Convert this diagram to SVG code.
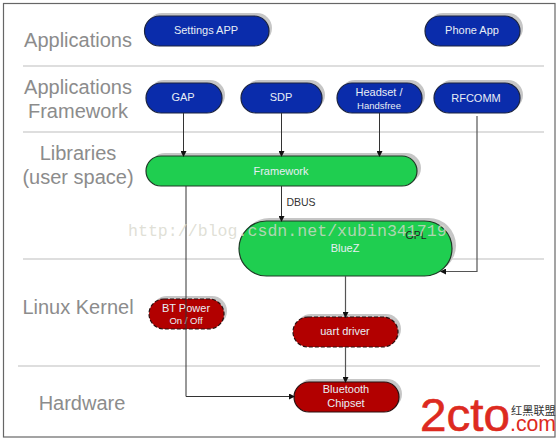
<svg xmlns="http://www.w3.org/2000/svg" width="558" height="441" viewBox="0 0 558 441">
<style>
text{font-family:"Liberation Sans",Arial,sans-serif;text-anchor:middle}
.lay{font-size:20px;fill:#8c8c8c}
.sep{stroke:#bdbdbd;stroke-width:1.2;fill:none}
.sh{fill:#c6c6c6}
.blue{fill:#0a2cab;stroke:#1a2340;stroke-width:1.2}
.green{fill:#1fce50;stroke:#1d3a25;stroke-width:1.2}
.red{fill:#b20000;stroke:#2a1010;stroke-width:1.2}
.dash{stroke-dasharray:4 2}
.t{font-size:11px;fill:#e8eef5}
.ts{font-size:9.5px;fill:#e8eef5}
.c{fill:none;stroke:#333;stroke-width:1}
.g{stroke:#555;stroke-width:1.2}
</style>
<defs>
<marker id="a" markerWidth="6" markerHeight="6" refX="5" refY="3" orient="auto" markerUnits="userSpaceOnUse"><path d="M0,0L6,3L0,6z" fill="#111"/></marker>
</defs>
<rect width="558" height="441" fill="#fff"/>
<rect x="3.5" y="3.5" width="551.5" height="433.5" fill="#fff" stroke="#666" stroke-width="1.2"/>
<g id="separators">
<path class="sep" d="M23,66H544M23,132H544M23,259H544M18,366H540"/>
</g>
<g id="layer-labels">
<text class="lay" x="78" y="47">Applications</text>
<text class="lay" x="78" y="94">Applications</text>
<text class="lay" x="78" y="118">Framework</text>
<text class="lay" x="78" y="160">Libraries</text>
<text class="lay" x="78" y="184">(user space)</text>
<text class="lay" x="78" y="314">Linux Kernel</text>
<text class="lay" x="82" y="410">Hardware</text>
</g>
<g id="settings-app"><rect class="sh" x="147" y="13" width="125" height="30" rx="15"/><rect class="blue" x="144.500" y="16" width="124.500" height="30" rx="15"/><text class="t" x="206" y="34">Settings APP</text></g>
<g id="phone-app"><rect class="sh" x="428" y="13" width="95" height="30" rx="15"/><rect class="blue" x="425" y="16" width="95" height="30" rx="15"/><text class="t" x="472" y="34">Phone App</text></g>
<g id="gap"><rect class="sh" x="149" y="80" width="76" height="30" rx="15"/><rect class="blue" x="146" y="83" width="76" height="30" rx="15"/><text class="t" x="183" y="101">GAP</text></g>
<g id="sdp"><rect class="sh" x="244" y="80" width="81" height="30" rx="15"/><rect class="blue" x="241" y="83" width="81" height="30" rx="15"/><text class="t" x="281" y="101">SDP</text></g>
<g id="headset"><rect class="sh" x="340" y="80" width="85" height="30" rx="15"/><rect class="blue" x="337" y="83" width="85" height="30" rx="15"/><text class="t" x="379" y="96">Headset /</text><text class="ts" x="379" y="109">Handsfree</text></g>
<g id="rfcomm"><rect class="sh" x="437" y="80" width="86" height="30" rx="15"/><rect class="blue" x="434" y="83" width="86" height="30" rx="15"/><text class="t" x="476" y="102">RFCOMM</text></g>
<g id="framework"><rect class="sh" x="150" y="153" width="271" height="30" rx="15"/><rect class="green" x="146" y="156" width="271" height="30" rx="15"/><text class="t" x="281" y="175">Framework</text></g>
<g id="bluez"><rect class="sh" x="242" y="218" width="214" height="55" rx="27.500"/><rect class="green" x="239" y="221" width="213" height="55" rx="27.500"/><text class="t" x="345" y="252">BlueZ</text><text x="416" y="239" font-size="10.500" fill="#222">GPL</text></g>
<g id="bt-power"><rect class="sh" x="152" y="296" width="75" height="30" rx="15"/><rect class="red dash" x="149" y="299" width="75" height="30" rx="15"/><text class="t" x="186" y="312">BT Power</text><text class="ts" x="186" y="324">On / Off</text></g>
<g id="uart-driver"><rect class="sh" x="296" y="314" width="105" height="30" rx="15"/><rect class="red dash" x="293" y="317" width="105" height="30" rx="15"/><text class="t" x="345" y="335">uart driver</text></g>
<g id="bluetooth-chipset"><rect class="sh" x="297" y="379" width="105" height="30" rx="15"/><rect class="red" x="294" y="382" width="105" height="30" rx="15"/><text class="t" x="346" y="393">Bluetooth</text><text class="t" x="346" y="407">Chipset</text></g>
<g id="connectors">
<path class="c" marker-end="url(#a)" d="M183.500,113V156"/>
<path class="c" marker-end="url(#a)" d="M281.500,113V156"/>
<path class="c" marker-end="url(#a)" d="M379.500,113V156"/>
<path class="c" marker-end="url(#a)" d="M281.500,186V221"/>
<path class="c g" marker-end="url(#a)" d="M477,116V271.500H441"/>
<path class="c" marker-end="url(#a)" d="M186,186V396.500H294"/>
<path class="c g" marker-end="url(#a)" d="M345.500,276V317"/>
<path class="c g" marker-end="url(#a)" d="M345.500,347V382"/>
</g>
<text x="301" y="206" font-size="10.500" fill="#333">DBUS</text>
<text x="128" y="236" font-size="16.600" fill="#d8d8cc" fill-opacity=".8" style="text-anchor:start;font-family:'Liberation Mono',monospace">http://blog.csdn.net/xubin341719</text>
<g id="logo">
<text x="420" y="431" font-size="47" fill="#dd2a20" stroke="#dd2a20" stroke-width=".6" style="text-anchor:start" textLength="90" lengthAdjust="spacingAndGlyphs">2cto</text>
<text x="510" y="431" font-size="22" fill="#dd2a20" style="text-anchor:start" textLength="46" lengthAdjust="spacingAndGlyphs">.com</text>
<text x="511" y="415" font-size="11.200" fill="#333" style="text-anchor:start;font-family:'Noto Sans CJK SC',sans-serif">红黑联盟</text>
</g>
</svg>
